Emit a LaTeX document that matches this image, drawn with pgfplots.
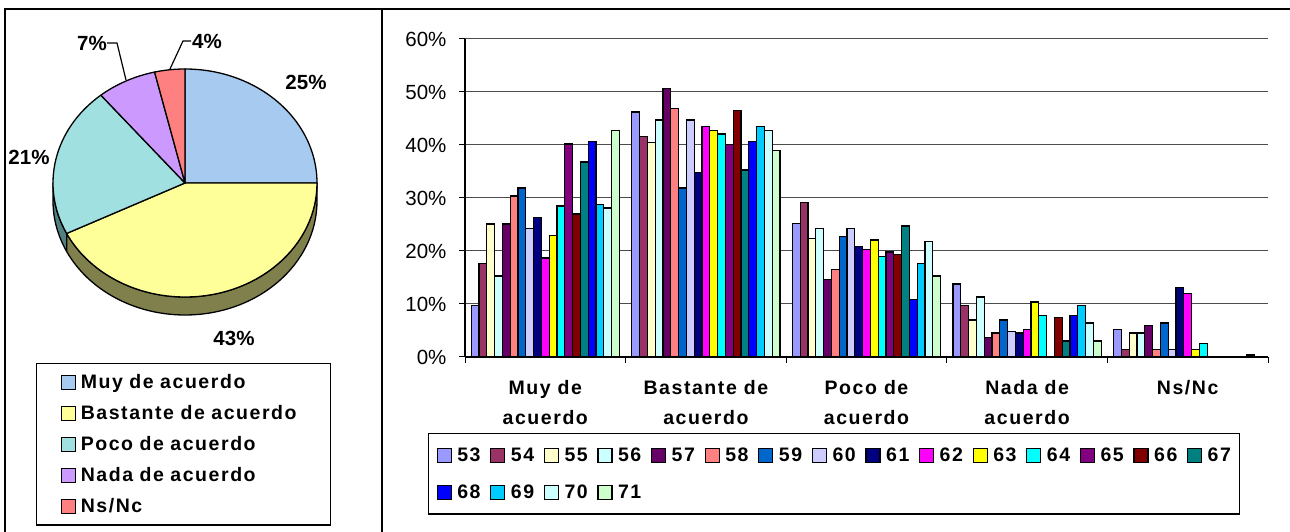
\documentclass[border=0pt]{standalone}
\usepackage{fontspec}
\setmainfont{Liberation Sans}
\newfontfamily\lblfont[LetterSpace=8]{Liberation Sans}
\usepackage{pgfplots}
\pgfplotsset{compat=1.18}

\definecolor{c53}{RGB}{153,153,255}
\definecolor{c54}{RGB}{153,51,102}
\definecolor{c55}{RGB}{255,255,204}
\definecolor{c56}{RGB}{204,255,255}
\definecolor{c57}{RGB}{102,0,102}
\definecolor{c58}{RGB}{255,128,128}
\definecolor{c59}{RGB}{0,102,204}
\definecolor{c60}{RGB}{204,204,255}
\definecolor{c61}{RGB}{0,0,128}
\definecolor{c62}{RGB}{255,0,255}
\definecolor{c63}{RGB}{255,255,0}
\definecolor{c64}{RGB}{0,255,255}
\definecolor{c65}{RGB}{128,0,128}
\definecolor{c66}{RGB}{128,0,0}
\definecolor{c67}{RGB}{0,128,128}
\definecolor{c68}{RGB}{0,0,255}
\definecolor{c69}{RGB}{0,204,255}
\definecolor{c70}{RGB}{204,255,255}
\definecolor{c71}{RGB}{204,255,204}

\definecolor{pMuy}{RGB}{166,202,240}
\definecolor{pBas}{RGB}{255,255,153}
\definecolor{pPoc}{RGB}{160,224,224}
\definecolor{pNad}{RGB}{204,153,255}
\definecolor{pNs}{RGB}{255,128,128}
\definecolor{sBas}{RGB}{128,128,77}
\definecolor{sPoc}{RGB}{80,128,128}

% pie values (percent)
\def\pieA{25.0}\def\pieB{42.7}\def\pieC{21.3}\def\pieD{7.3}\def\pieE{3.7}

\tikzset{bst/.style={fill=#1, draw=black, line width=1.3pt}}

\begin{document}
\begin{tikzpicture}[x=1pt,y=1pt]
\useasboundingbox (0,0) rectangle (1290,532);
\draw[line width=1.2pt] (5,0) -- (5,523) -- (1290,523);
\draw[line width=1.2pt] (382,0) -- (382,523);

\pgfmathsetmacro{\tA}{90}
\pgfmathsetmacro{\tB}{\tA-3.6*\pieA}
\pgfmathsetmacro{\tC}{\tB-3.6*\pieB}
\pgfmathsetmacro{\tD}{\tC-3.6*\pieC}
\pgfmathsetmacro{\tE}{\tD-3.6*\pieD}
\pgfmathsetmacro{\tF}{\tE-3.6*\pieE}

% ---------- pie ----------
\begin{axis}[at={(0pt,0pt)}, anchor=south west, scale only axis,
  width=1290pt, height=532pt, xmin=0, xmax=1290, ymin=0, ymax=532,
  hide axis, clip=false,
  legend image code/.code={\draw[#1,draw=black,line width=1.2pt] (0pt,-7pt) rectangle (14pt,7pt);},
  legend style={at={(36/1290,169/532)}, anchor=north west, draw=black, line width=1.2pt,
    inner xsep=24pt, inner ysep=11pt, row sep=15.3pt,
    nodes={inner sep=0pt, text width=226pt, font=\lblfont\bfseries\fontsize{19.5}{22}\selectfont},
    /tikz/every odd column/.append style={column sep=5pt}},
  legend cell align=left]
\addlegendimage{fill=pMuy}\addlegendentry{Muy de acuerdo}
\addlegendimage{fill=pBas}\addlegendentry{Bastante de acuerdo}
\addlegendimage{fill=pPoc}\addlegendentry{Poco de acuerdo}
\addlegendimage{fill=pNad}\addlegendentry{Nada de acuerdo}
\addlegendimage{fill=pNs}\addlegendentry{Ns/Nc}
\coordinate (c) at (axis cs:185,349);
% sides
\filldraw[fill=sPoc, draw=black, line width=1.3pt, line join=round] (c) ++(-180:132pt and 114pt)
  arc[start angle=-180, end angle=\tC, x radius=132pt, y radius=114pt] -- ++(0,-18pt)
  arc[start angle=\tC, end angle=-180, x radius=132pt, y radius=114pt] -- cycle;
\filldraw[fill=sBas, draw=black, line width=1.3pt, line join=round] (c) ++(\tC:132pt and 114pt)
  arc[start angle=\tC, end angle=0, x radius=132pt, y radius=114pt] -- ++(0,-18pt)
  arc[start angle=0, end angle=\tC, x radius=132pt, y radius=114pt] -- cycle;
% top faces
\filldraw[fill=pMuy, draw=black, line width=1.3pt, line join=round] (c) -- ++(\tA:132pt and 114pt)
  arc[start angle=\tA, end angle=\tB, x radius=132pt, y radius=114pt] -- cycle;
\filldraw[fill=pBas, draw=black, line width=1.3pt, line join=round] (c) -- ++(\tB:132pt and 114pt)
  arc[start angle=\tB, end angle=\tC, x radius=132pt, y radius=114pt] -- cycle;
\filldraw[fill=pPoc, draw=black, line width=1.3pt, line join=round] (c) -- ++(\tC:132pt and 114pt)
  arc[start angle=\tC, end angle=\tD, x radius=132pt, y radius=114pt] -- cycle;
\filldraw[fill=pNad, draw=black, line width=1.3pt, line join=round] (c) -- ++(\tD:132pt and 114pt)
  arc[start angle=\tD, end angle=\tE, x radius=132pt, y radius=114pt] -- cycle;
\filldraw[fill=pNs, draw=black, line width=1.3pt, line join=round] (c) -- ++(\tE:132pt and 114pt)
  arc[start angle=\tE, end angle=\tF, x radius=132pt, y radius=114pt] -- cycle;
% labels
\begin{scope}[every node/.style={font=\bfseries\fontsize{20.5}{24}\selectfont, inner sep=0pt}]
\node at (axis cs:306,450) {25\%};
\node at (axis cs:234,194) {43\%};
\node at (axis cs:29,375) {21\%};
\node at (axis cs:92,489) {7\%};
\node at (axis cs:207,491) {4\%};
\end{scope}
\draw[line width=1.2pt] (axis cs:107,489) -- (axis cs:117,489) -- (axis cs:126,452);
\draw[line width=1.2pt] (axis cs:191,491) -- (axis cs:183,491) -- (axis cs:170,463);
\end{axis}

% ---------- bars ----------
\begin{axis}[at={(465pt,175pt)}, anchor=south west, scale only axis,
  width=803pt, height=318pt,
  xmin=-0.5, xmax=4.5, ymin=0, ymax=60,
  axis lines*=left, axis line style={line width=1.2pt, -},
  ybar=0pt, bar width=7.8pt,
  every axis plot post/.append style={
    legend image code/.code={\draw[#1,draw=black,line width=1.2pt] (0pt,-7pt) rectangle (14pt,7pt);}},
  ytick={0,10,20,30,40,50,60},
  yticklabel={\pgfmathprintnumber{\tick}\%},
  /pgf/number format/assume math mode=true,
  yticklabel style={font=\fontsize{20.5}{24}\selectfont, xshift=-9pt},
  ymajorgrids, grid style={black!70, line width=1pt},
  xtick={-0.5,0.5,1.5,2.5,3.5,4.5}, xticklabels={},
  extra x ticks={0,1,2,3,4},
  extra x tick labels={{Muy de\\acuerdo},{Bastante de\\acuerdo},{Poco de\\acuerdo},{Nada de\\acuerdo},{Ns/Nc}},
  extra x tick style={major tick length=0pt, xticklabel style={align=center, yshift=-20pt,
     font=\lblfont\bfseries\fontsize{19.5}{29.5}\selectfont}},
  tick align=outside, major tick length=6pt, tick style={black, line width=1pt},
  legend columns=15,
  legend style={at={(-37/803,-76/318)}, anchor=north west, draw=black, line width=1.2pt,
    inner xsep=8pt, inner ysep=14pt, row sep=22pt,
    nodes={inner sep=0pt, text width=24pt, font=\lblfont\bfseries\fontsize{19.5}{22}\selectfont},
    /tikz/every odd column/.append style={column sep=5.5pt},
    /tikz/every even column/.append style={column sep=8.9pt}},
  legend cell align=left]
\addplot[bst=c53] coordinates {(0,9.7) (1,46.2) (2,25.2) (3,13.8) (4,5.2)}; \addlegendentry{53}
\addplot[bst=c54] coordinates {(0,17.7) (1,41.6) (2,29.2) (3,9.7) (4,1.4)}; \addlegendentry{54}
\addplot[bst=c55] coordinates {(0,25.1) (1,40.5) (2,22.4) (3,7.0) (4,4.5)}; \addlegendentry{55}
\addplot[bst=c56] coordinates {(0,15.3) (1,44.7) (2,24.3) (3,11.3) (4,4.5)}; \addlegendentry{56}
\addplot[bst=c57] coordinates {(0,25.1) (1,50.6) (2,14.6) (3,3.7) (4,6.0)}; \addlegendentry{57}
\addplot[bst=c58] coordinates {(0,30.4) (1,46.9) (2,16.5) (3,4.5) (4,1.4)}; \addlegendentry{58}
\addplot[bst=c59] coordinates {(0,31.9) (1,31.9) (2,22.8) (3,7.0) (4,6.4)}; \addlegendentry{59}
\addplot[bst=c60] coordinates {(0,24.3) (1,44.7) (2,24.3) (3,4.8) (4,1.4)}; \addlegendentry{60}
\addplot[bst=c61] coordinates {(0,26.3) (1,34.8) (2,20.9) (3,4.5) (4,13.1)}; \addlegendentry{61}
\addplot[bst=c62] coordinates {(0,18.7) (1,43.5) (2,20.3) (3,5.2) (4,12.0)}; \addlegendentry{62}
\addplot[bst=c63] coordinates {(0,22.9) (1,42.8) (2,22.1) (3,10.4) (4,1.4)}; \addlegendentry{63}
\addplot[bst=c64] coordinates {(0,28.5) (1,42.1) (2,19.0) (3,7.8) (4,2.6)}; \addlegendentry{64}
\addplot[bst=c65] coordinates {(0,40.2) (1,40.1) (2,19.8)}; \addlegendentry{65}
\addplot[bst=c66] coordinates {(0,27.0) (1,46.5) (2,19.4) (3,7.4)}; \addlegendentry{66}
\addplot[bst=c67] coordinates {(0,36.8) (1,35.3) (2,24.7) (3,3.0)}; \addlegendentry{67}
\addplot[bst=c68] coordinates {(0,40.6) (1,40.6) (2,10.8) (3,7.8)}; \addlegendentry{68}
\addplot[bst=c69] coordinates {(0,28.8) (1,43.5) (2,17.6) (3,9.7)}; \addlegendentry{69}
\addplot[bst=c70] coordinates {(0,28.1) (1,42.8) (2,21.8) (3,6.4) (4,0.4)}; \addlegendentry{70}
\addplot[bst=c71] coordinates {(0,42.8) (1,39.0) (2,15.3) (3,3.0)}; \addlegendentry{71}
\end{axis}
\end{tikzpicture}
\end{document}
